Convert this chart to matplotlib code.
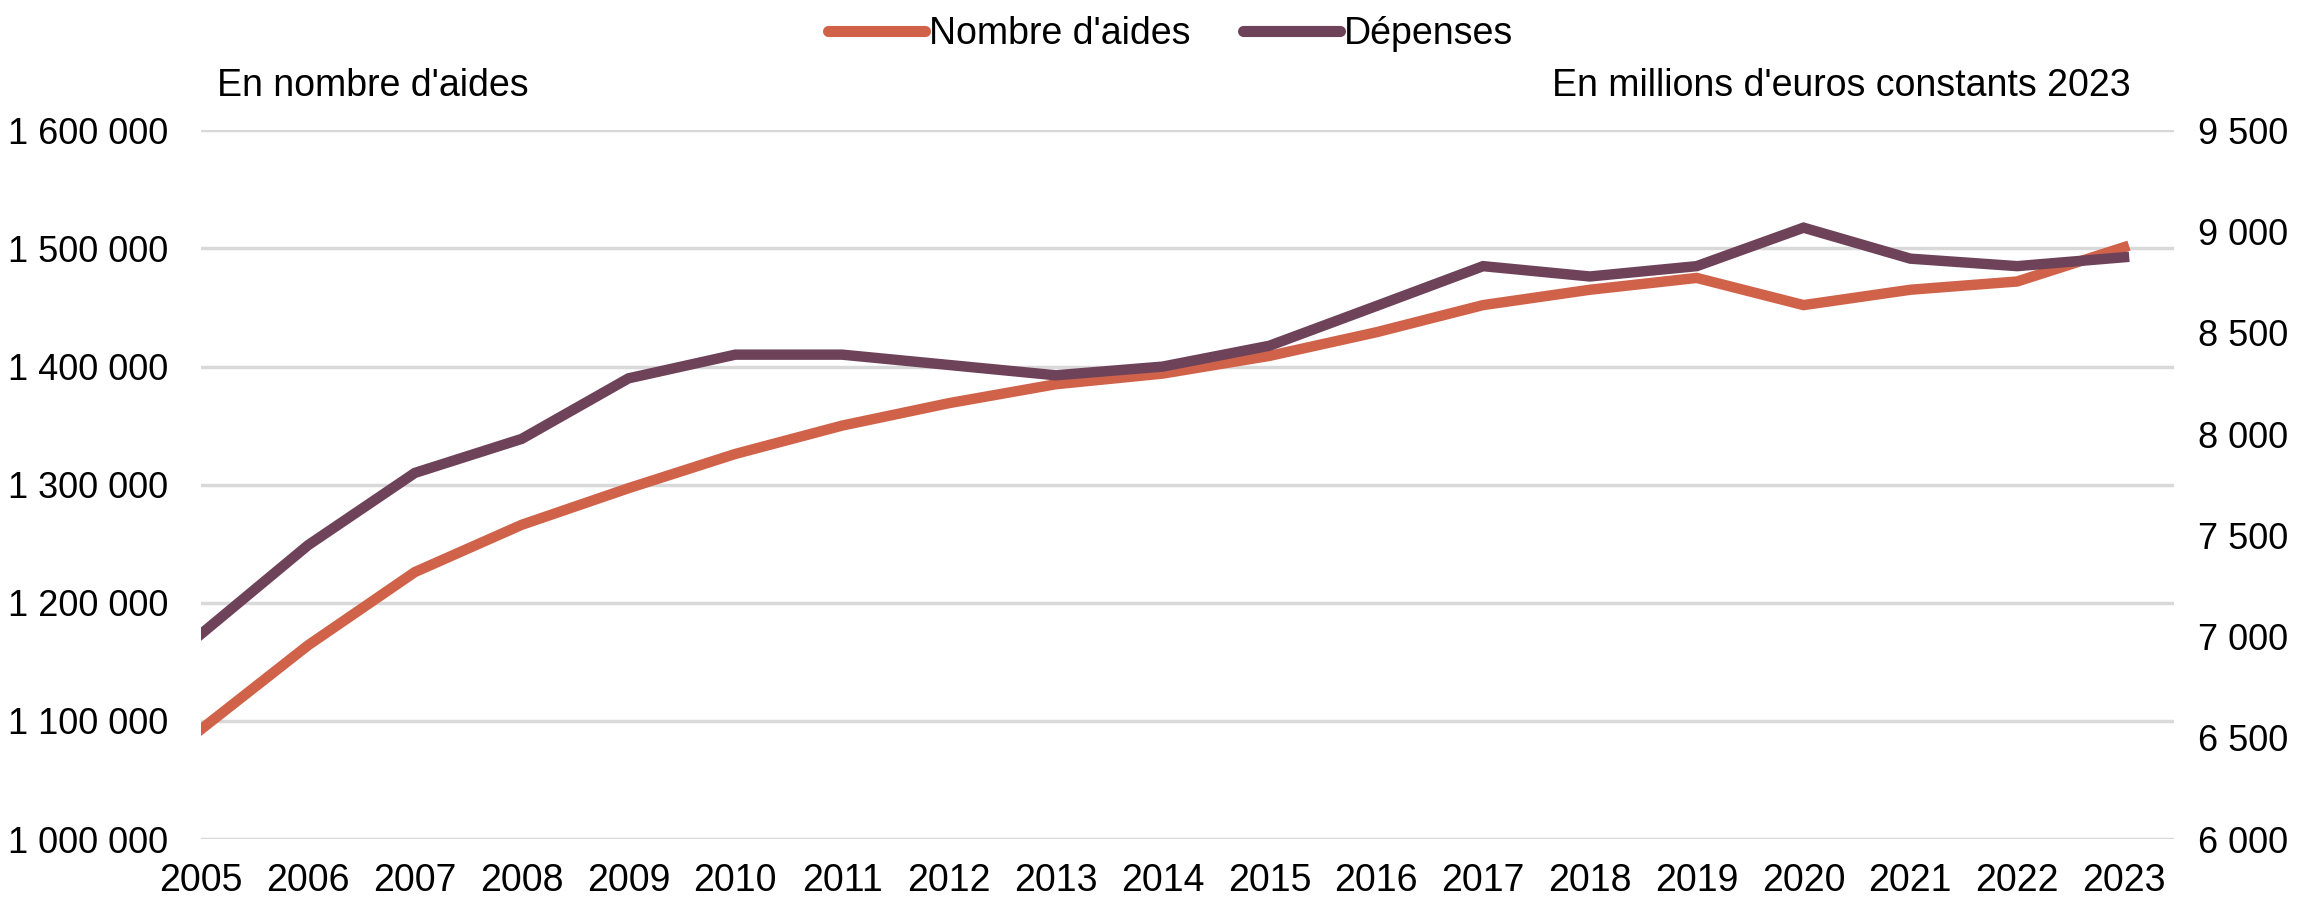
import matplotlib
matplotlib.use("Agg")
import matplotlib.pyplot as plt
from matplotlib.ticker import FuncFormatter, MultipleLocator
from matplotlib.lines import Line2D

plt.rcParams['font.family'] = ['Liberation Sans', 'DejaVu Sans']

years = list(range(2005, 2024))
nombre_aides = [1093000, 1164000, 1226000, 1266000, 1297000, 1326000, 1350000,
                1369000, 1385000, 1394000, 1409000, 1429000, 1452000, 1465000,
                1475000, 1452000, 1465000, 1472000, 1501000]
depenses = [7013, 7451, 7808, 7976, 8275, 8392, 8392, 8341, 8290, 8333,
            8436, 8632, 8829, 8778, 8829, 9019, 8866, 8829, 8873]

orange = '#D0624A'
purple = '#6E435A'
fs = 27

def fmt(v, pos):
    return '{:,.0f}'.format(v).replace(',', ' ')

fig = plt.figure(figsize=(23.13, 9.11), dpi=100)
ax = fig.add_axes([0.087, 0.079, 0.853, 0.778])
ax2 = ax.twinx()

ax.plot(years, nombre_aides, color=orange, lw=7.5, solid_joinstyle='miter', zorder=3)
ax2.plot(years, depenses, color=purple, lw=7.5, solid_joinstyle='miter', zorder=3)

ax.set_xlim(2005, 2023.47)
ax.set_ylim(1000000, 1600000)
ax.yaxis.set_major_locator(MultipleLocator(100000))
ax.yaxis.set_major_formatter(FuncFormatter(fmt))
ax2.set_ylim(6000, 9500)
ax2.yaxis.set_major_locator(MultipleLocator(500))
ax2.yaxis.set_major_formatter(FuncFormatter(fmt))
ax.set_xticks(years)

ax.grid(axis='y', color='#D9D9D9', lw=2.5)
ax.set_axisbelow(True)
for a in (ax, ax2):
    for s in a.spines.values():
        s.set_visible(False)
    a.tick_params(length=0, labelsize=fs)
ax.tick_params(axis='y', labelsize=26, pad=24)
ax2.tick_params(axis='y', labelsize=26, pad=17)
ax.tick_params(axis='x', pad=17)

fig.text(0.094, 0.906, "En nombre d'aides", fontsize=fs, va='center', ha='left')
fig.text(0.921, 0.906, "En millions d'euros constants 2023", fontsize=fs, va='center', ha='right')

handles = [Line2D([], [], color=orange, lw=8, solid_capstyle='round'),
           Line2D([], [], color=purple, lw=8, solid_capstyle='round')]
fig.legend(handles, ["Nombre d'aides", "Dépenses"], loc='center', bbox_to_anchor=(0.506, 0.963),
           ncol=2, frameon=False, fontsize=fs, handlelength=2.6, handletextpad=0.1,
           columnspacing=1.4)

fig.savefig('out.png', dpi=100)
